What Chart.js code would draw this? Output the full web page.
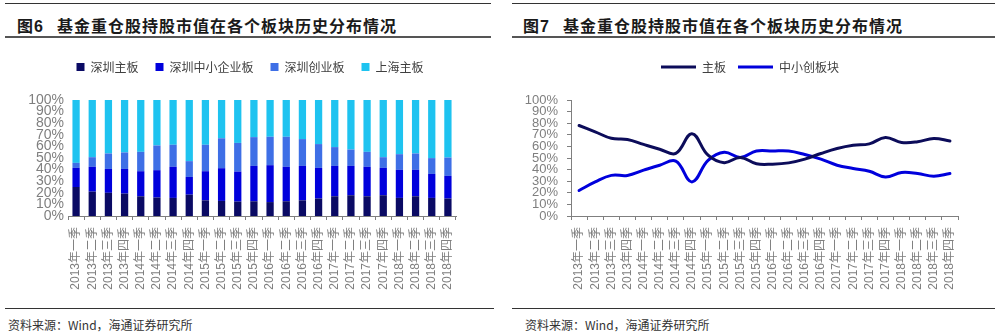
<!DOCTYPE html>
<html>
<head>
<meta charset="utf-8">
<script src="https://cdn.jsdelivr.net/npm/chart.js@4.4.1/dist/chart.umd.min.js"></script>
<style>
  body { margin: 0; width: 1000px; height: 333px; background: #fff; position: relative; overflow: hidden;
         font-family: "Liberation Sans", "Noto Sans CJK SC", sans-serif; }
  .rule { position: absolute; height: 0; }
  .title { position: absolute; top: 13px; font: bold 16px "Liberation Sans", "Noto Sans CJK SC", sans-serif;
           color: #1a1a1a; letter-spacing: 1px; white-space: nowrap; }
  .title .no { margin-right: 13px; }
  .src { position: absolute; top: 316px; font: 12px "Noto Sans CJK SC", sans-serif; color: #333; white-space: nowrap; }
  canvas { position: absolute; }
</style>
</head>
<body>

<div class="rule" style="left:5px; width:486px; top:3px; border-top:1.5px solid #333;"></div>
<div class="rule" style="left:512px; width:483px; top:3px; border-top:1.5px solid #333;"></div>
<div class="title" style="left:17px;"><span class="no">图6</span>基金重仓股持股市值在各个板块历史分布情况</div>
<div class="title" style="left:523px;"><span class="no">图7</span>基金重仓股持股市值在各个板块历史分布情况</div>
<div class="rule" style="left:5px; width:486px; top:36px; border-top:2px solid #555;"></div>
<div class="rule" style="left:512px; width:483px; top:36px; border-top:2px solid #555;"></div>

<canvas id="chart-share" width="500" height="261" style="left:0; top:44px;"></canvas>
<canvas id="chart-board" width="500" height="256" style="left:500px; top:49px;"></canvas>

<div class="rule" style="left:5px; width:489px; top:308px; border-top:1.5px solid #333;"></div>
<div class="rule" style="left:512px; width:483px; top:308px; border-top:1.5px solid #333;"></div>
<div class="src" style="left:8px;">资料来源：Wind，海通证券研究所</div>
<div class="src" style="left:525px;">资料来源：Wind，海通证券研究所</div>

<script>
// 季度
const quarters = [
  '2013年一季', '2013年二季', '2013年三季', '2013年四季',
  '2014年一季', '2014年二季', '2014年三季', '2014年四季',
  '2015年一季', '2015年二季', '2015年三季', '2015年四季',
  '2016年一季', '2016年二季', '2016年三季', '2016年四季',
  '2017年一季', '2017年二季', '2017年三季', '2017年四季',
  '2018年一季', '2018年二季', '2018年三季', '2018年四季'
];

// 图6：各板块占比（%）
const szMain = [25, 21, 20, 19.3, 17, 15.9, 15.6, 18.4, 13.5, 13, 12.4, 12.7, 12, 12.7, 13.5, 15, 17, 17.9, 17, 17.9, 15.6, 17, 15.6, 15];
const szSme  = [16.5, 21.4, 20.6, 21.3, 21.6, 23.6, 26.8, 15.3, 25.1, 28.2, 25.9, 30.5, 31.8, 29.7, 29.7, 26.5, 26.2, 25.3, 25.4, 23.6, 24.2, 22.8, 20.7, 19.6];
const szGem  = [4.3, 8.3, 13.3, 14.2, 16.7, 21.3, 19, 13.6, 22.8, 25.8, 24.7, 24.8, 24.5, 25.9, 23.1, 20.5, 16.2, 14.1, 12.9, 9.2, 13.5, 14.1, 13.6, 15.8];
const shMain = [54.2, 49.3, 46.1, 45.2, 44.7, 39.2, 38.6, 52.7, 38.6, 33, 37, 32, 31.7, 31.7, 33.7, 38, 40.6, 42.7, 44.7, 49.3, 46.7, 46.1, 50.1, 49.6];

// 图7：主板 vs 中小创（%）
const mainBoard = [78, 72.6, 67, 66, 61.7, 57.6, 54, 71, 52.4, 46, 50.5, 45, 44.7, 45.8, 49, 53.9, 58.2, 61, 62.2, 67.7, 63.4, 64, 66.9, 64.6];
const smeGem    = [22, 29.4, 35, 35, 39.5, 43.8, 47.3, 29.4, 48, 55, 50.5, 56, 56, 56, 53, 49, 43.8, 41, 38.6, 33.7, 37.5, 36.6, 34.3, 36.6];

const pctTicks = [0, 10, 20, 30, 40, 50, 60, 70, 80, 90, 100];

const grey = '#7f7f7f';
const tickFont = { family: '"Liberation Sans", "Noto Sans CJK SC", sans-serif', size: 12 };
const legendFont = { family: '"Noto Sans CJK SC", sans-serif', size: 12 };

// 固定图例高度，让绘图区顶部落在同一位置
function fixedLegend(h) {
  return {
    id: 'fixedLegend',
    beforeInit(chart) {
      const fit = chart.legend.fit;
      chart.legend.fit = function () {
        fit.call(this);
        this.height = h;
      };
    }
  };
}

function xAxis() {
  return {
    offset: true,
    grid: { display: true, drawOnChartArea: false, drawTicks: true, tickLength: 4, offset: true, color: grey },
    border: { display: true, color: grey, width: 1 },
    ticks: { color: grey, font: tickFont, autoSkip: false, maxRotation: 90, minRotation: 90, padding: 7 },
    afterFit: (s) => { s.height = 89; }
  };
}

function pctAxis(width, extra) {
  return Object.assign({
    min: 0, max: 100,
    afterBuildTicks: (s) => { s.ticks = pctTicks.map(v => ({ value: v })); },
    afterFit: (s) => { s.width = width; }
  }, extra);
}

// 右侧留白用的空轴，图例仍按整块画布居中
function spacerAxis(width) {
  return {
    position: 'right', display: true,
    grid: { display: false }, border: { display: false }, ticks: { display: false },
    afterFit: (s) => { s.width = width; }
  };
}

Chart.defaults.animation = false;

// 图6 堆积柱
new Chart(document.getElementById('chart-share'), {
  type: 'bar',
  data: {
    labels: quarters,
    datasets: [
      { label: '深圳主板', data: szMain, backgroundColor: '#0a0a64' },
      { label: '深圳中小企业板', data: szSme, backgroundColor: '#0000dc' },
      { label: '深圳创业板', data: szGem, backgroundColor: '#3e6fe6' },
      { label: '上海主板', data: shMain, backgroundColor: '#1ec3f0' }
    ]
  },
  options: {
    responsive: false,
    layout: { padding: 0 },
    datasets: { bar: { categoryPercentage: 0.45, barPercentage: 1 } },
    plugins: {
      legend: {
        labels: { font: legendFont, color: '#404040', boxWidth: 8, boxHeight: 8, padding: 17 }
      },
      tooltip: { enabled: false }
    },
    scales: {
      x: Object.assign(xAxis(), { stacked: true }),
      y: pctAxis(68, {
        stacked: true,
        grid: { display: false, drawTicks: false },
        border: { display: false },
        ticks: { color: grey, font: { family: '"Liberation Sans", sans-serif', size: 14 }, padding: 4,
                 autoSkip: false, callback: v => v + '%' }
      }),
      pad: spacerAxis(44)
    }
  },
  plugins: [fixedLegend(56)]
});

// 图7 折线
new Chart(document.getElementById('chart-board'), {
  type: 'line',
  data: {
    labels: quarters,
    datasets: [
      { label: '主板', data: mainBoard, borderColor: '#0c0c5a', backgroundColor: '#0c0c5a' },
      { label: '中小创板块', data: smeGem, borderColor: '#0000dc', backgroundColor: '#0000dc' }
    ]
  },
  options: {
    responsive: false,
    layout: { padding: 0 },
    elements: {
      line: { borderWidth: 3, tension: 0.4, borderCapStyle: 'round' },
      point: { radius: 0 }
    },
    plugins: {
      legend: {
        labels: {
          font: legendFont, color: '#404040', boxWidth: 35, boxHeight: 3, padding: 12,
          generateLabels(chart) {
            const items = Chart.defaults.plugins.legend.labels.generateLabels(chart);
            items.forEach(it => { it.lineWidth = 0; it.fillStyle = it.strokeStyle; });
            return items;
          }
        }
      },
      tooltip: { enabled: false }
    },
    scales: {
      x: xAxis(),
      y: pctAxis(71, {
        grid: { display: true, drawOnChartArea: false, drawTicks: true, tickLength: 4, color: grey },
        border: { display: true, color: grey, width: 1 },
        ticks: { color: grey, font: { family: '"Liberation Sans", sans-serif', size: 13 }, padding: 9,
                 autoSkip: false, callback: v => v + '%' }
      }),
      pad: spacerAxis(42)
    }
  },
  plugins: [fixedLegend(51)]
});
</script>
</body>
</html>
